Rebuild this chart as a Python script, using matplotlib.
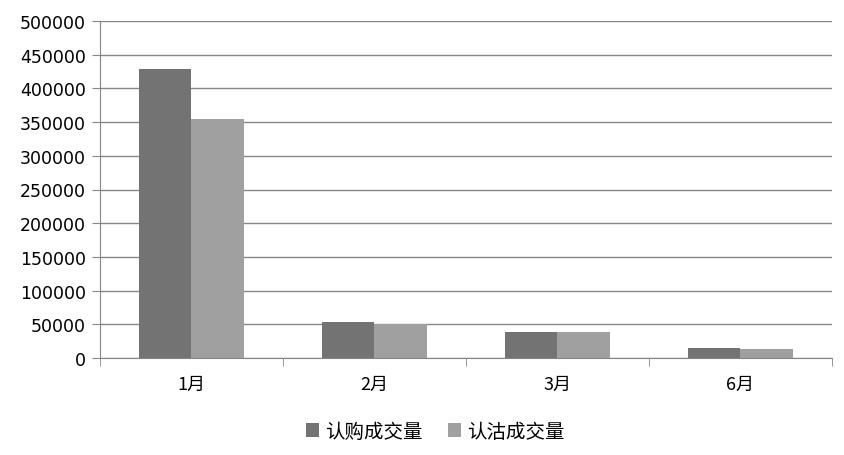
import matplotlib
matplotlib.use("Agg")
import matplotlib.pyplot as plt
import numpy as np

plt.rcParams['font.family'] = ['DejaVu Sans', 'Noto Sans CJK SC']

months = ["1月", "2月", "3月", "6月"]
call_vol = [429000, 53500, 38500, 14800]   # 认购成交量
put_vol = [355000, 50500, 38500, 13400]    # 认沽成交量
series_names = ["认购成交量", "认沽成交量"]

fig = plt.figure(figsize=(8.45, 4.56), dpi=100)
ax = fig.add_axes([100 / 845, 1 - 359 / 456, 732 / 845, 337 / 456])

x = np.arange(len(months))
w = 0.287
ax.bar(x - w / 2, call_vol, w, color="#737373", label=series_names[0], zorder=3)
ax.bar(x + w / 2, put_vol, w, color="#a0a0a0", label=series_names[1], zorder=3)

ax.set_xlim(-0.5, len(months) - 0.5)
ax.set_ylim(0, 500000)
ax.set_yticks(np.arange(0, 500001, 50000))
ax.set_yticklabels([str(v) for v in range(0, 500001, 50000)])
ax.yaxis.grid(True, color="#868686", linewidth=1)
ax.set_axisbelow(True)

ax.set_xticks(x)
ax.set_xticklabels(months, family=['Noto Sans CJK SC', 'DejaVu Sans'])
ax.set_xticks(np.arange(-0.5, len(months), 1), minor=True)
ax.tick_params(axis="x", which="major", length=0, pad=12, labelsize=13)
ax.tick_params(axis="x", which="minor", length=6, color="#868686")
ax.tick_params(axis="y", length=6, color="#868686", labelsize=12.5, pad=4)

for s in ["top", "right"]:
    ax.spines[s].set_visible(False)
for s in ["left", "bottom"]:
    ax.spines[s].set_color("#868686")

fig.legend(loc="lower center", bbox_to_anchor=(0.515, -0.01), ncol=2, frameon=False,
           prop={'family': ['Noto Sans CJK SC', 'DejaVu Sans'], 'size': 14},
           handlelength=0.7, handleheight=0.7, handletextpad=0.3,
           columnspacing=1.3)

fig.savefig("out.png", dpi=100)
